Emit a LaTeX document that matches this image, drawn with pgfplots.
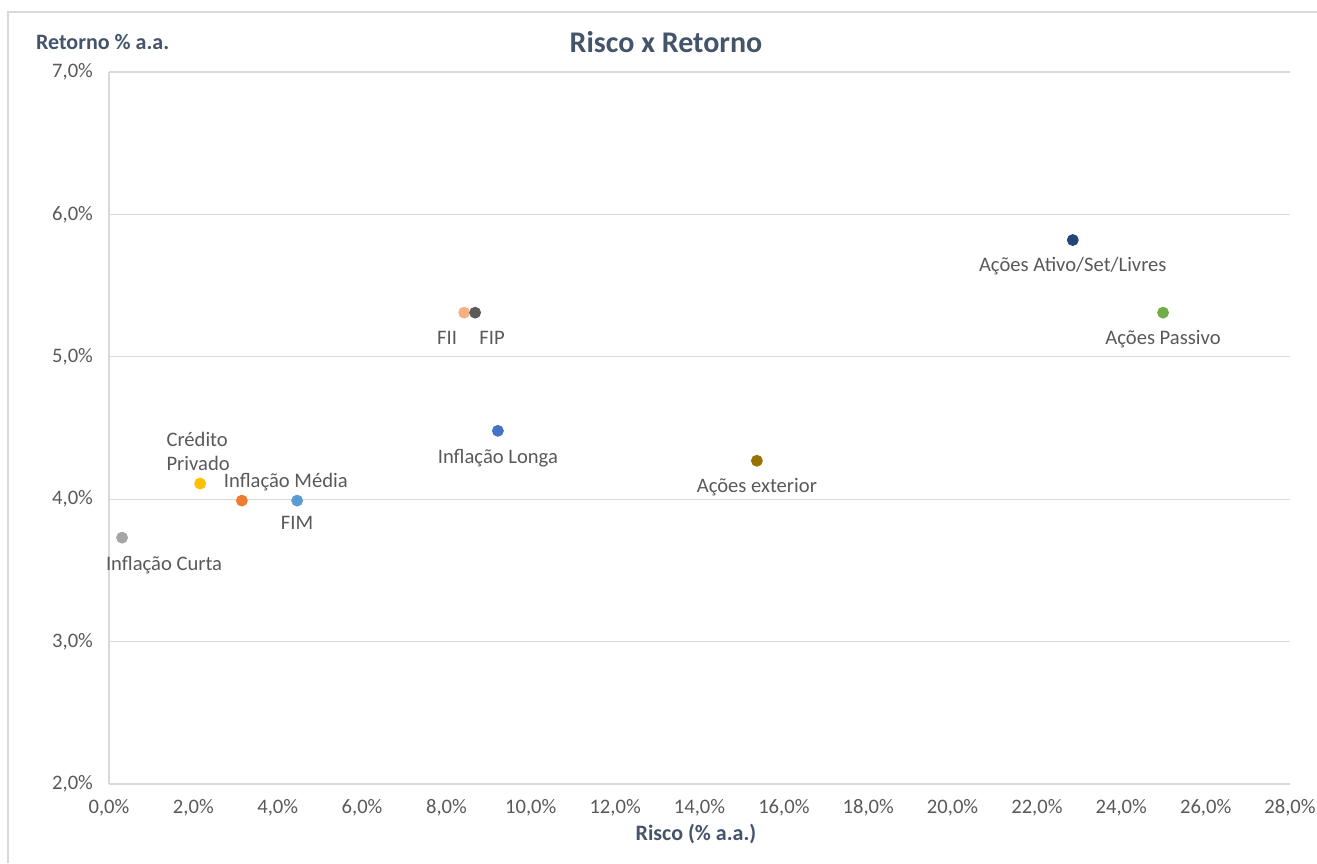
\documentclass[border=0pt]{standalone}
\usepackage{fontspec}
\setmainfont{Carlito}
\usepackage{pgfplots}
\pgfplotsset{compat=1.18}
\definecolor{lab}{HTML}{595959}
\definecolor{ttl}{HTML}{44546A}
\definecolor{grd}{HTML}{D9D9D9}
\definecolor{cCurta}{HTML}{A5A5A5}
\definecolor{cCred}{HTML}{FFC000}
\definecolor{cMedia}{HTML}{ED7D31}
\definecolor{cFIM}{HTML}{5B9BD5}
\definecolor{cFII}{HTML}{F4B183}
\definecolor{cFIP}{HTML}{5A5A5A}
\definecolor{cLonga}{HTML}{4472C4}
\definecolor{cExt}{HTML}{997300}
\definecolor{cAtivo}{HTML}{264478}
\definecolor{cPass}{HTML}{70AD47}
\pgfplotsset{
  pt/.style n args={3}{only marks, mark=*, mark size=2.75pt,
    mark options={draw=#1, fill=#1}, color=#1,
    nodes near coords, point meta=explicit symbolic,
    nodes near coords style={anchor=center, xshift=#2, yshift=#3, text=lab,
      font=\fontsize{10.3}{12}\selectfont, inner sep=0pt}},
}
\begin{document}
\begin{tikzpicture}
\path[use as bounding box] (0,0) rectangle (658.5pt,431.5pt);
\draw[grd, line width=0.6pt] (4pt,0) -- (4pt,425.5pt) -- (658.5pt,425.5pt);
\node[anchor=west, text=ttl, font=\fontsize{11}{13}\selectfont\bfseries] at (14.5pt,410.5pt) {Retorno \% a.a.};
\node[anchor=center, text=ttl, font=\fontsize{15}{17}\selectfont\bfseries] at (333pt,410.5pt) {Risco x Retorno};
\begin{axis}[
  at={(54.5pt,39.5pt)}, anchor=south west,
  scale only axis, width=590.5pt, height=356pt,
  xmin=0, xmax=28, ymin=2, ymax=7,
  xtick={0,2,...,28}, ytick={2,3,...,7},
  xticklabel={\pgfmathprintnumber[fixed,fixed zerofill,precision=1,use comma,assume math mode=true]{\tick}\%},
  yticklabel={\pgfmathprintnumber[fixed,fixed zerofill,precision=1,use comma,assume math mode=true]{\tick}\%},
  tick label style={text=lab, font=\fontsize{10.3}{12}\selectfont},
  xticklabel style={yshift=-4pt},
  yticklabel style={xshift=-4.5pt},
  major tick length=0pt,
  axis lines*=left,
  axis line style={grd, line width=0.6pt},
  ymajorgrids, grid style={grd, line width=0.6pt},
  xlabel={Risco (\% a.a.)},
  xlabel style={text=ttl, font=\fontsize{11}{13}\selectfont\bfseries, at={(0.497,0)}, anchor=center, yshift=-25pt},
  clip=false,
]
\addplot[pt={cCurta}{21pt}{-13.5pt}] coordinates {(0.31,3.73) [Inflação Curta]};
\addplot[pt={cCred}{-1pt}{16pt}, nodes near coords={Crédito\\Privado}, nodes near coords style={align=left}] coordinates {(2.16,4.11)};
\addplot[pt={cMedia}{22pt}{9.5pt}] coordinates {(3.15,3.99) [Inflação Média]};
\addplot[pt={cFIM}{0pt}{-11pt}] coordinates {(4.46,3.99) [FIM]};
\addplot[pt={cFII}{-8.5pt}{-12.5pt}] coordinates {(8.42,5.31) [FII]};
\addplot[pt={cFIP}{8.5pt}{-12.5pt}] coordinates {(8.68,5.31) [FIP]};
\addplot[pt={cLonga}{0pt}{-13.5pt}] coordinates {(9.22,4.48) [Inflação Longa]};
\addplot[pt={cExt}{0pt}{-13pt}] coordinates {(15.36,4.27) [Ações exterior]};
\addplot[pt={cAtivo}{0pt}{-13pt}] coordinates {(22.85,5.82) [Ações Ativo/Set/Livres]};
\addplot[pt={cPass}{0pt}{-13pt}] coordinates {(24.99,5.31) [Ações Passivo]};
\end{axis}
\end{tikzpicture}
\end{document}
